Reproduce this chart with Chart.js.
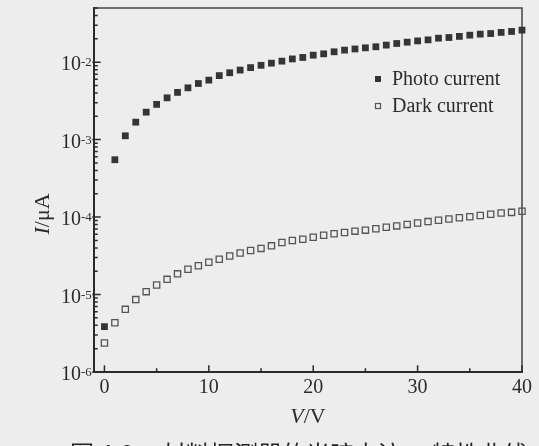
<!DOCTYPE html>
<html>
<head>
<meta charset="utf-8">
<script src="https://cdn.jsdelivr.net/npm/chart.js@4"></script>
<style>
  html, body { margin: 0; padding: 0; background: #ededed; overflow: hidden; }
  #wrap { position: relative; width: 539px; height: 446px; overflow: hidden; }
  #chart { position: absolute; left: 0; top: 0; }
  #caption {
    position: absolute; left: 70px; top: 441px; width: 480px; white-space: nowrap;
    font: 24px "Noto Sans CJK SC", sans-serif; color: #222; line-height: 24px;
  }
</style>
</head>
<body>
<div id="wrap">
  <canvas id="chart" width="539" height="446"></canvas>
  <div id="caption">图 4.6　 材料探测器的光暗电流　 特性曲线</div>
</div>
<script>
const voltage = [0, 1, 2, 3, 4, 5, 6, 7, 8, 9, 10, 11, 12, 13, 14, 15, 16, 17, 18, 19, 20,
  21, 22, 23, 24, 25, 26, 27, 28, 29, 30, 31, 32, 33, 34, 35, 36, 37, 38, 39, 40];

const photoCurrent = [3.85e-6, 5.5e-4, 1.12e-3, 1.68e-3, 2.26e-3, 2.85e-3, 3.46e-3, 4.07e-3, 4.66e-3, 5.3e-3, 5.86e-3,
  6.7e-3, 7.3e-3, 7.9e-3, 8.5e-3, 9.1e-3, 9.7e-3, 1.03e-2, 1.10e-2, 1.15e-2, 1.23e-2,
  1.28e-2, 1.36e-2, 1.43e-2, 1.48e-2, 1.53e-2, 1.58e-2, 1.66e-2, 1.74e-2, 1.81e-2, 1.88e-2,
  1.94e-2, 2.04e-2, 2.08e-2, 2.15e-2, 2.23e-2, 2.30e-2, 2.34e-2, 2.42e-2, 2.49e-2, 2.59e-2];

const darkCurrent = [2.37e-6, 4.33e-6, 6.44e-6, 8.6e-6, 1.09e-5, 1.33e-5, 1.57e-5, 1.85e-5, 2.12e-5, 2.35e-5, 2.61e-5,
  2.85e-5, 3.14e-5, 3.43e-5, 3.70e-5, 3.94e-5, 4.25e-5, 4.69e-5, 4.98e-5, 5.18e-5, 5.50e-5,
  5.83e-5, 6.08e-5, 6.32e-5, 6.58e-5, 6.78e-5, 7.07e-5, 7.38e-5, 7.69e-5, 8.04e-5, 8.38e-5,
  8.74e-5, 9.08e-5, 9.42e-5, 9.79e-5, 1.01e-4, 1.05e-4, 1.09e-4, 1.13e-4, 1.15e-4, 1.19e-4];

const seriesNames = ['Photo current', 'Dark current'];
const xTicks = [0, 10, 20, 30, 40];
const xMinorTicks = [5, 15, 25, 35];
const yExponents = [-6, -5, -4, -3, -2];

const ink = '#2b2b2b';
const serif = '"Liberation Serif", "Times New Roman", serif';

const axesPlugin = {
  id: 'paperAxes',
  beforeDatasetsDraw(chart) {
    const { ctx, chartArea: a, scales: { x, y } } = chart;
    ctx.save();
    ctx.strokeStyle = ink;
    ctx.lineCap = 'square';
    // frame
    ctx.lineWidth = 2;
    ctx.beginPath();
    ctx.moveTo(a.left, a.top); ctx.lineTo(a.left, a.bottom); ctx.lineTo(a.right, a.bottom);
    ctx.stroke();
    ctx.lineWidth = 1.5;
    ctx.strokeStyle = '#444';
    ctx.beginPath();
    ctx.moveTo(a.left, a.top); ctx.lineTo(a.right, a.top); ctx.lineTo(a.right, a.bottom);
    ctx.stroke();

    // x ticks, pointing inward
    ctx.strokeStyle = ink;
    ctx.lineWidth = 1.5;
    ctx.beginPath();
    xTicks.forEach(v => { const px = x.getPixelForValue(v); ctx.moveTo(px, a.bottom); ctx.lineTo(px, a.bottom - 6); });
    xMinorTicks.forEach(v => { const px = x.getPixelForValue(v); ctx.moveTo(px, a.bottom); ctx.lineTo(px, a.bottom - 3); });
    // y ticks, log decades with minor ticks
    yExponents.forEach(e => {
      const py = y.getPixelForValue(Math.pow(10, e));
      ctx.moveTo(a.left - 1, py); ctx.lineTo(a.left + 6, py);
      for (let m = 2; m <= 9; m++) {
        const v = m * Math.pow(10, e);
        if (v > y.max) break;
        const pm = y.getPixelForValue(v);
        ctx.moveTo(a.left, pm); ctx.lineTo(a.left + 3, pm);
      }
    });
    ctx.stroke();
    ctx.restore();
  },
  afterDraw(chart) {
    const { ctx, chartArea: a, scales: { x, y } } = chart;
    ctx.save();
    ctx.fillStyle = ink;

    // x tick labels
    ctx.font = `20px ${serif}`;
    ctx.textAlign = 'center';
    ctx.textBaseline = 'alphabetic';
    xTicks.forEach(v => ctx.fillText(String(v), x.getPixelForValue(v), a.bottom + 21));

    // y tick labels 10^e
    yExponents.forEach(e => {
      const py = y.getPixelForValue(Math.pow(10, e));
      ctx.font = `20px ${serif}`;
      ctx.textAlign = 'right';
      ctx.fillText('10', a.left - 13, py + 8);
      ctx.font = `13px ${serif}`;
      ctx.textAlign = 'left';
      ctx.fillText(String(e), a.left - 13, py + 4);
    });

    // x axis title: V/V
    const xt = [[`italic 22px ${serif}`, 'V'], [`22px ${serif}`, '/V']];
    drawRun(ctx, xt, (a.left + a.right) / 2 + 0, a.bottom + 51);

    // y axis title: I/μA, rotated
    ctx.save();
    ctx.translate(49, 214);
    ctx.rotate(-Math.PI / 2);
    drawRun(ctx, [[`italic 22px ${serif}`, 'I'], [`22px ${serif}`, '/μA']], 0, 0);
    ctx.restore();

    // legend
    const lx = 378;
    const rows = [85, 112];
    chart.data.datasets.forEach((ds, i) => {
      const cy = rows[i] - 6;
      if (i === 0) {
        ctx.fillStyle = '#333';
        ctx.fillRect(lx - 3, cy - 3, 6, 6);
      } else {
        ctx.strokeStyle = '#555';
        ctx.lineWidth = 1.2;
        ctx.strokeRect(lx - 2.5, cy - 2.5, 5, 5);
      }
      ctx.fillStyle = ink;
      ctx.font = `20px ${serif}`;
      ctx.textAlign = 'left';
      ctx.fillText(ds.label, lx + 14, rows[i]);
    });
    ctx.restore();
  }
};

function drawRun(ctx, parts, cx, baseline) {
  let total = 0;
  parts.forEach(([font, text]) => { ctx.font = font; total += ctx.measureText(text).width; });
  let px = cx - total / 2;
  ctx.textAlign = 'left';
  ctx.textBaseline = 'alphabetic';
  parts.forEach(([font, text]) => {
    ctx.font = font;
    ctx.fillText(text, px, baseline);
    px += ctx.measureText(text).width;
  });
}

new Chart(document.getElementById('chart'), {
  type: 'scatter',
  data: {
    datasets: [
      {
        label: seriesNames[0],
        data: voltage.map((v, i) => ({ x: v, y: photoCurrent[i] })),
        pointStyle: 'rect',
        pointRadius: 4.8,
        backgroundColor: '#353535',
        borderColor: '#353535',
        borderWidth: 0,
        clip: false
      },
      {
        label: seriesNames[1],
        data: voltage.map((v, i) => ({ x: v, y: darkCurrent[i] })),
        pointStyle: 'rect',
        pointRadius: 4.4,
        backgroundColor: 'rgba(0,0,0,0)',
        borderColor: '#555',
        borderWidth: 1.3,
        clip: false
      }
    ]
  },
  options: {
    responsive: false,
    animation: false,
    layout: { padding: { left: 94, top: 8, right: 17, bottom: 74 } },
    plugins: { legend: { display: false }, tooltip: { enabled: false } },
    scales: {
      x: { type: 'linear', min: -1, max: 40, display: false },
      y: { type: 'logarithmic', min: 1e-6, max: 0.05, display: false }
    }
  },
  plugins: [axesPlugin]
});
</script>
</body>
</html>
